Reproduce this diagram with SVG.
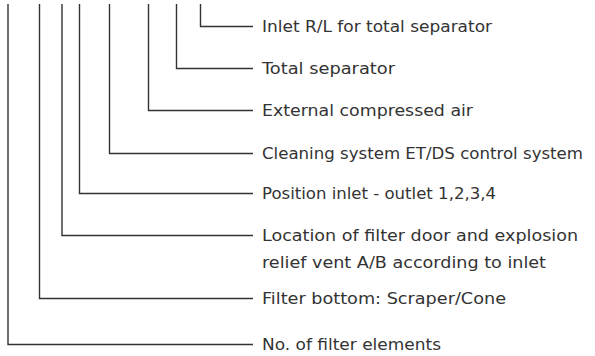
<svg xmlns="http://www.w3.org/2000/svg" width="595" height="356" viewBox="0 0 595 356">
<style>
.c{fill:none;stroke:#333;stroke-width:1.4}
.t{font-family:"DejaVu Sans",sans-serif;font-size:16px;fill:#333;dominant-baseline:central}
</style>
<rect width="595" height="356" fill="#fff"/>
<g id="connectors">
<path class="c" d="M200.5 4V26.5H253"/>
<path class="c" d="M176.5 4V68.5H253"/>
<path class="c" d="M148.5 4V110.5H253"/>
<path class="c" d="M109.5 4V153.5H253"/>
<path class="c" d="M79.5 4V193.5H253"/>
<path class="c" d="M62 4V235.5H253"/>
<path class="c" d="M39.5 4V298.5H253"/>
<path class="c" d="M8 4V344.5H253"/>
</g>
<g id="n1"><text class="t" x="262" y="26" textLength="230" lengthAdjust="spacingAndGlyphs">Inlet R/L for total separator</text></g>
<g id="n2"><text class="t" x="262" y="68" textLength="133" lengthAdjust="spacingAndGlyphs">Total separator</text></g>
<g id="n3"><text class="t" x="262" y="110" textLength="211" lengthAdjust="spacingAndGlyphs">External compressed air</text></g>
<g id="n4"><text class="t" x="262" y="153" textLength="321" lengthAdjust="spacingAndGlyphs">Cleaning system ET/DS control system</text></g>
<g id="n5"><text class="t" x="262" y="193" textLength="234" lengthAdjust="spacingAndGlyphs">Position inlet - outlet 1,2,3,4</text></g>
<g id="n6"><text class="t" x="262" y="235" textLength="316" lengthAdjust="spacingAndGlyphs">Location of filter door and explosion</text><text class="t" x="262" y="262" textLength="284" lengthAdjust="spacingAndGlyphs">relief vent A/B according to inlet</text></g>
<g id="n7"><text class="t" x="262" y="298" textLength="244" lengthAdjust="spacingAndGlyphs">Filter bottom: Scraper/Cone</text></g>
<g id="n8"><text class="t" x="262" y="344" textLength="179" lengthAdjust="spacingAndGlyphs">No. of filter elements</text></g>
</svg>
